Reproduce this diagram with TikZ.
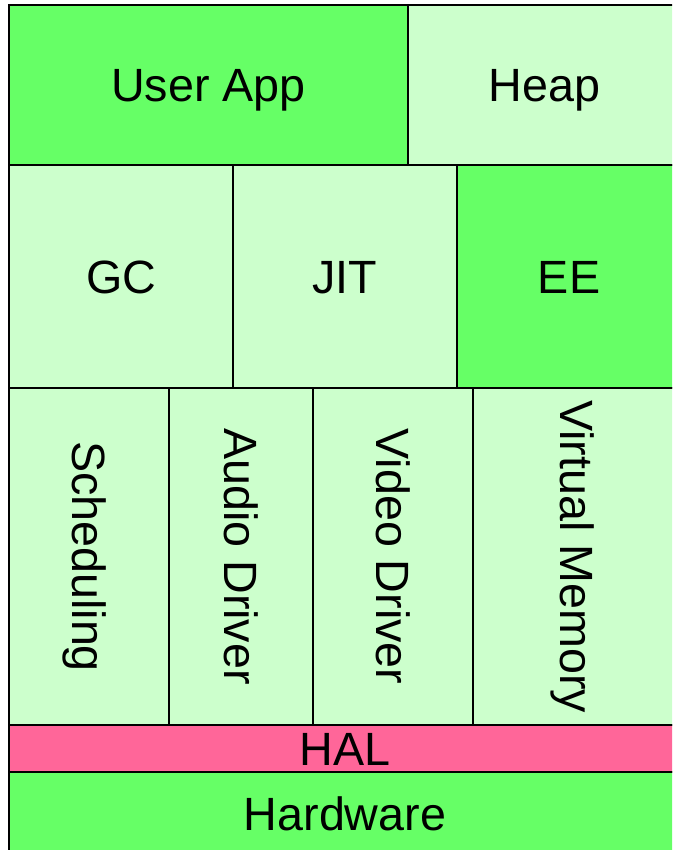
\documentclass[tikz,border=0pt]{standalone}
\usepackage{fontspec}
\setmainfont{Liberation Sans}
\usepackage{xcolor}
\definecolor{green1}{HTML}{66FF66}
\definecolor{green2}{HTML}{CCFFCC}
\definecolor{red1}{HTML}{FF6699}

\tikzset{
  cell/.style={draw=black,line width=1.5pt},
  lbl/.style={inner sep=0pt,text height=25pt,text depth=0pt,font=\fontsize{35}{42}\selectfont}
}

\begin{document}
\begin{tikzpicture}[x=0.75pt,y=-0.75pt]

\useasboundingbox (0,0) rectangle (672,850);
\clip (0,0) rectangle (672,850);

% top row
\draw[cell,fill=green1] (9,5) rectangle (408,165);
\draw[cell,fill=green2] (408,5) rectangle (681,165);
\node[lbl] (userapp) at (208.5,85) {User App};
\node[lbl] (heap) at (544.5,85) {Heap};

% runtime
\draw[cell,fill=green2] (9,165) rectangle (233,388);
\draw[cell,fill=green2] (233,165) rectangle (457,388);
\draw[cell,fill=green1] (457,165) rectangle (681,388);
\node[lbl] (gc) at (121,276.5) {GC};
\node[lbl] (jit) at (345,276.5) {JIT};
\node[lbl] (ee) at (569,276.5) {EE};

% kernel services
\draw[cell,fill=green2] (9,388) rectangle (169,725);
\draw[cell,fill=green2] (169,388) rectangle (313,725);
\draw[cell,fill=green2] (313,388) rectangle (473,725);
\draw[cell,fill=green2] (473,388) rectangle (681,725);
\node[lbl,rotate=-90] (sched) at (89,556.5) {Scheduling};
\node[lbl,rotate=-90] (audio) at (241,556.5) {Audio Driver};
\node[lbl,rotate=-90] (video) at (393,556.5) {Video Driver};
\node[lbl,rotate=-90] (vmem) at (577,556.5) {Virtual Memory};

% bottom
\draw[cell,fill=red1] (9,725) rectangle (681,772);
\draw[cell,fill=green1] (9,772) rectangle (681,856);
\node[lbl] (hal) at (345,748.5) {HAL};
\node[lbl] (hw) at (345,814) {Hardware};

\end{tikzpicture}
\end{document}
